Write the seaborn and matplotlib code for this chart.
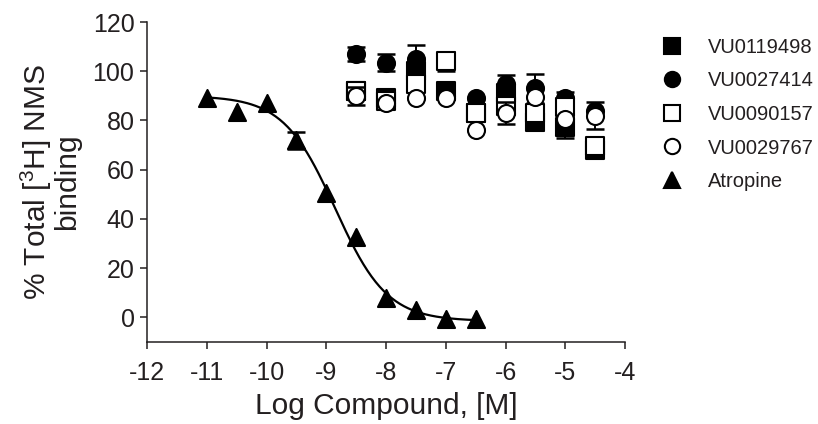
import matplotlib
matplotlib.use("Agg")
import matplotlib.pyplot as plt
from matplotlib.lines import Line2D
import numpy as np
import pandas as pd
import seaborn as sns

# log concentrations
log_conc = [-8.5, -8.0, -7.5, -7.0, -6.5, -6.0, -5.5, -5.0, -4.5]
log_atropine = [-11.0, -10.5, -10.0, -9.5, -9.0, -8.5, -8.0, -7.5, -7.0, -6.5]

# % total [3H]NMS binding (mean, sem; 0 = bar hidden by the symbol)
vu0119498 = [92, 89, 100, 92, 83, 91, 79.5, 77.5, 68]
vu0119498_err = [0, 0, 0, 0, 0, 0, 3.5, 4.5, 0]
vu0027414 = [107, 103.5, 105, 90, 89, 95, 93, 89, 84]
vu0027414_err = [3, 3.5, 5.5, 0, 0, 3.5, 6, 0, 0]
vu0090157 = [92, 88, 95, 104, 83, 86, 83, 85.5, 69.5]
vu0090157_err = [0, 0, 0, 4, 0, 0, 0, 6, 0]
vu0029767 = [90, 87, 89, 89, 76, 83, 89.5, 80.5, 82]
vu0029767_err = [3.6, 0, 0, 0, 0, 4.5, 0, 0, 5.5]
atropine = [89, 83.5, 87, 72, 50.5, 32.5, 8, 3, -0.5, -0.5]
atropine_err = [0, 0, 0, 3.5, 0, 0, 0, 0, 0, 0]

# fitted one-site curve for atropine
fit_top, fit_bottom, fit_logic50, fit_hill = 90.0, -1.5, -8.85, 1.0

sns.set_style("ticks")
plt.rcParams["font.family"] = ["Liberation Sans", "DejaVu Sans"]
plt.rcParams["mathtext.fontset"] = "custom"
plt.rcParams["mathtext.rm"] = "Liberation Sans"

txt = "#231f20"

fig = plt.figure(figsize=(8.18, 4.24), dpi=100)
ax = fig.add_axes([147 / 818, 82 / 424, 478 / 818, 320 / 424])

series = [
    ("VU0119498", log_conc, vu0119498, vu0119498_err, "s", "black"),
    ("VU0027414", log_conc, vu0027414, vu0027414_err, "o", "black"),
    ("VU0090157", log_conc, vu0090157, vu0090157_err, "s", "white"),
    ("VU0029767", log_conc, vu0029767, vu0029767_err, "o", "white"),
    ("Atropine", log_atropine, atropine, atropine_err, "^", "black"),
]

xs = np.linspace(-11, -6.5, 200)
curve = pd.DataFrame({
    "x": xs,
    "y": fit_bottom + (fit_top - fit_bottom) / (1 + 10 ** ((xs - fit_logic50) * fit_hill)),
})
sns.lineplot(data=curve, x="x", y="y", color="black", lw=1.6, ax=ax, zorder=2)

handles = []
for i, (name, x, y, err, mk, fc) in enumerate(series):
    df = pd.DataFrame({"x": x, "y": y, "err": err})
    eb = df[df["err"] > 0]
    if len(eb):
        ax.errorbar(eb["x"], eb["y"], yerr=eb["err"], fmt="none", ecolor="black",
                    elinewidth=1.4, capsize=6.5, capthick=1.8,
                    zorder=3 + 2 * i, clip_on=False)
    sns.scatterplot(data=df, x="x", y="y", marker=mk, s=150, color=fc,
                    edgecolor="black", linewidth=1.5, ax=ax, zorder=4 + 2 * i,
                    clip_on=False)
    handles.append(Line2D([], [], ls="none", marker=mk, markersize=11,
                          markerfacecolor=fc, markeredgecolor="black",
                          markeredgewidth=1.5, label=name))

ax.set_xlim(-12, -4)
ax.set_ylim(-10, 120)
ax.set_xticks(range(-12, -3))
ax.set_xticklabels([str(v) for v in range(-12, -3)])
ax.set_yticks(range(0, 121, 20))
sns.despine(ax=ax)
for sp in ["left", "bottom"]:
    ax.spines[sp].set_linewidth(1.1)
    ax.spines[sp].set_color(txt)
ax.tick_params(axis="both", direction="out", length=5, width=1.1,
               labelsize=18, color=txt, labelcolor=txt)
ax.tick_params(axis="y", pad=4)
ax.tick_params(axis="x", pad=9)
ax.set_xlabel("Log Compound, [M]", fontsize=21.5, color=txt, labelpad=5)
ax.set_ylabel("% Total [$^3$H] NMS\nbinding", fontsize=21.5, color=txt,
              labelpad=8, linespacing=1.0)
ax.grid(False)

leg = fig.legend(handles=handles, loc="upper left",
                 bbox_to_anchor=(660 / 818, 1 - 38 / 424),
                 frameon=False, fontsize=14.5, handlelength=1.2, handletextpad=1.2,
                 labelspacing=0.72, borderaxespad=0, borderpad=0)
for t in leg.get_texts():
    t.set_color(txt)

fig.savefig("out.png", dpi=100)
